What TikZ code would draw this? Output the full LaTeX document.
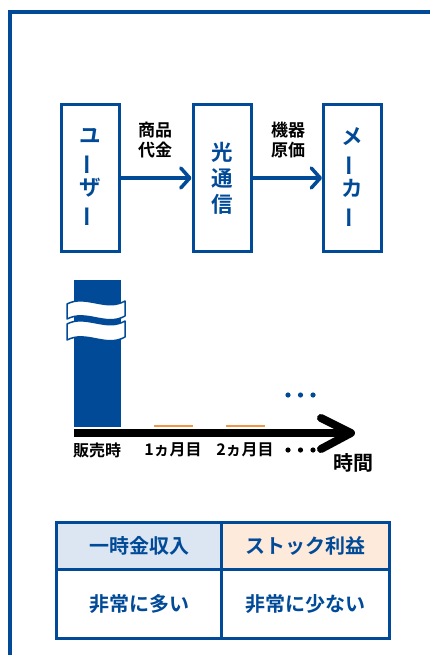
\documentclass[tikz,border=0pt]{standalone}
\usepackage{fontspec}
\setmainfont{Noto Sans CJK JP}[BoldFont={* Bold}]
\usetikzlibrary{arrows.meta,calc}
\definecolor{mainblue}{RGB}{0,74,152}
\definecolor{hdrblue}{RGB}{220,230,242}
\definecolor{hdrorange}{RGB}{253,234,218}
\definecolor{tickorange}{RGB}{240,150,70}
\newcommand{\vbar}{\rotatebox[origin=c]{90}{ー}}
\begin{document}
\begin{tikzpicture}[x=1pt,y=-1pt,
  box/.style={draw=mainblue,line width=3pt,minimum width=58pt,minimum height=147pt,inner sep=0pt,align=center,text=mainblue,font=\bfseries\fontsize{21.5}{26}\selectfont},
  flow/.style={draw=mainblue,line width=3.5pt,-{Straight Barb[length=9pt,width=20pt,line width=3.5pt,round]}},
  lbl/.style={align=center,inner sep=0pt,font=\bfseries\fontsize{17}{20}\selectfont},
  axlbl/.style={inner sep=0pt,font=\bfseries\fontsize{16}{18}\selectfont},
  cell/.style={draw=mainblue,line width=3pt,inner sep=0pt,anchor=north west,text=mainblue,font=\bfseries\fontsize{20}{22}\selectfont},
  band/.style={fill=white,draw=mainblue,line width=1.5pt,line join=round}
]
\useasboundingbox (0,0) rectangle (430,655);
\clip (0,0) rectangle (430,655);
% outer frame
\draw[mainblue,line width=4pt] (10,670) -- (10,12) -- (445,12);

% flow boxes
\node[box] (u) at (90.5,178) {ユ\\\vbar\\ザ\\\vbar};
\node[box] (k) at (222,178) {光\\通\\信};
\node[box] (m) at (352.5,178) {メ\\\vbar\\カ\\\vbar};
\draw[flow] (u.east) -- (k.west);
\draw[flow] (k.east) -- (m.west);
\node[lbl] (l1) at (155,140) {商品\\代金};
\node[lbl] (l2) at (288,140) {機器\\原価};

% bar with break
\fill[mainblue] (74,280) rectangle (121,427);
\draw[band] (67,304) .. controls (86,294) and (106,312) .. (125,301)
  -- (125,316) .. controls (106,327) and (86,309) .. (67,319) -- cycle;
\draw[band] (67,324) .. controls (86,314) and (106,332) .. (125,321)
  -- (125,337) .. controls (106,348) and (86,330) .. (67,340) -- cycle;

% small stock bars
\draw[tickorange,line width=1.8pt] (154,426) -- (193,426);
\draw[tickorange,line width=1.8pt] (226,426) -- (265,426);

% time axis
\coordinate (t0) at (74,433);
\coordinate (t1) at (351,433);
\draw[line width=8pt] (t0) -- (t1);
\draw[line width=8pt,line cap=round,line join=round] (321,418) -- (t1) -- (321,449);

% dots
\foreach \x in {288,300.5,313} {
  \fill[mainblue] (\x,395) circle (2.6pt);
  \fill[black] (\x,450) circle (2.6pt);
}

\node[axlbl] (s0) at (97,450) {販売時};
\node[axlbl] (s1) at (173,450) {1ヵ月目};
\node[axlbl] (s2) at (245,450) {2ヵ月目};
\node[inner sep=0pt,font=\bfseries\fontsize{20}{22}\selectfont] (tl) at (353,463) {時間};

% table
\node[cell,fill=hdrblue,minimum width=165pt,minimum height=47pt] (h1) at (55,521) {一時金収入};
\node[cell,fill=hdrorange,minimum width=168pt,minimum height=47pt] (h2) at (220,521) {ストック利益};
\node[cell,fill=white,minimum width=165pt,minimum height=69pt] (b1) at (55,568) {非常に多い};
\node[cell,fill=white,minimum width=168pt,minimum height=69pt] (b2) at (220,568) {非常に少ない};
\end{tikzpicture}
\end{document}
